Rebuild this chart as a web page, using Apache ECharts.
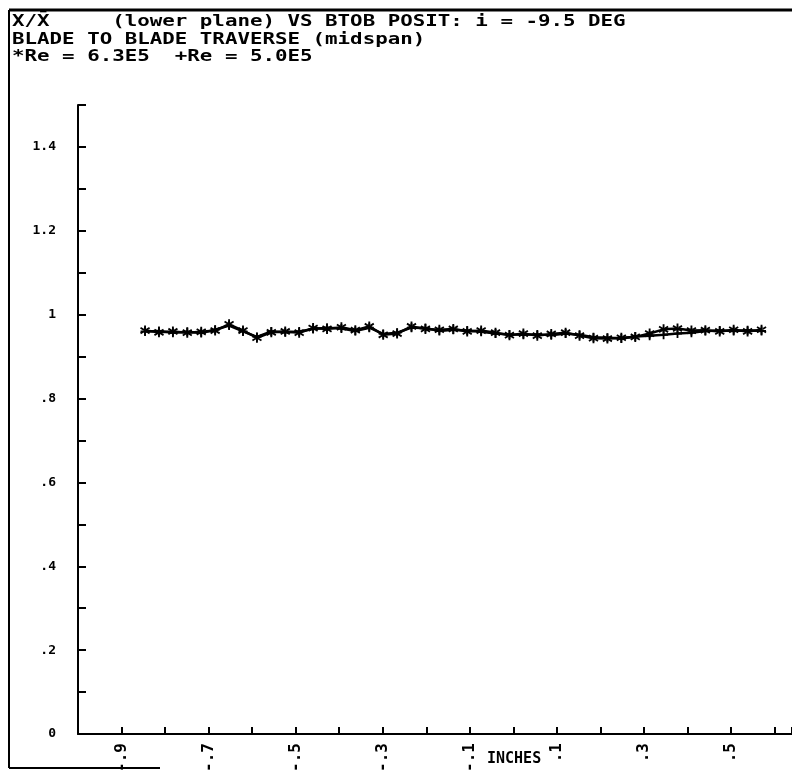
<!DOCTYPE html>
<html>
<head>
<meta charset="utf-8">
<script src="https://cdn.jsdelivr.net/npm/echarts@6/dist/echarts.min.js"></script>
<style>
    html, body { margin: 0; padding: 0; background: #fff; }
    #main { width: 792px; height: 771px; }
</style>
</head>
<body>
<div id="main"></div>
<script>
// traverse positions (inches)
var xPos = [-0.846, -0.814, -0.782, -0.749, -0.717, -0.685, -0.653, -0.621, -0.589, -0.556,
    -0.524, -0.492, -0.460, -0.428, -0.395, -0.363, -0.331, -0.299, -0.267, -0.234,
    -0.202, -0.170, -0.138, -0.106, -0.074, -0.041, -0.009, 0.023, 0.055, 0.087,
    0.120, 0.152, 0.184, 0.216, 0.248, 0.280, 0.313, 0.345, 0.377, 0.409,
    0.441, 0.474, 0.506, 0.538, 0.570];
// *Re = 6.3E5
var reHigh = [0.962, 0.958, 0.960, 0.957, 0.959, 0.962, 0.977, 0.962, 0.945, 0.958,
    0.960, 0.957, 0.968, 0.966, 0.970, 0.963, 0.972, 0.952, 0.955, 0.972,
    0.966, 0.964, 0.966, 0.960, 0.962, 0.957, 0.951, 0.955, 0.950, 0.954,
    0.957, 0.950, 0.944, 0.943, 0.945, 0.947, 0.955, 0.965, 0.967, 0.962,
    0.963, 0.960, 0.964, 0.960, 0.964];
// +Re = 5.0E5
var reLow = [0.960, 0.961, 0.957, 0.959, 0.956, 0.964, 0.974, 0.960, 0.947, 0.960,
    0.958, 0.960, 0.966, 0.969, 0.967, 0.961, 0.969, 0.954, 0.957, 0.969,
    0.968, 0.961, 0.964, 0.962, 0.959, 0.955, 0.953, 0.952, 0.953, 0.951,
    0.955, 0.952, 0.946, 0.945, 0.943, 0.948, 0.950, 0.952, 0.955, 0.957,
    0.961, 0.962, 0.961, 0.963, 0.961];
var titleLines = [
    'X/X\u0304     (lower plane) VS BTOB POSIT: i = -9.5 DEG',
    'BLADE TO BLADE TRAVERSE (midspan)',
    '*Re = 6.3E5  +Re = 5.0E5'
];
var xLabelTenths = [-9, -7, -5, -3, -1, 1, 3, 5];
var yLabelTenths = [0, 2, 4, 6, 8, 10, 12, 14];

var FONT = '"DejaVu Sans Mono", monospace';
var starPath = 'path://M-0.9,-5L0.9,-5L0.9,5L-0.9,5Z M-4.8,-2L-3.9,-3.6L4.8,2L3.9,3.6Z M-4.8,2L-3.9,3.6L4.8,-2L3.9,-3.6Z';
var plusPath = 'path://M-1,-5L1,-5L1,5L-1,5Z M-5,-1L5,-1L5,1L-5,1Z';

function tenthLabel(k) {
    if (k === 0) return '0';
    var s = (Math.abs(k) / 10).toString().replace(/^0\./, '.');
    return (k < 0 ? '-' : '') + s;
}

function pairs(xs, ys) {
    var out = [];
    for (var i = 0; i < xs.length; i++) out.push([xs[i], ys[i]]);
    return out;
}

var graphics = [
    // frame
    { type: 'line', shape: { x1: 9, y1: 10, x2: 792, y2: 10 }, style: { stroke: '#000', lineWidth: 3 } },
    { type: 'line', shape: { x1: 9, y1: 10, x2: 9, y2: 768 }, style: { stroke: '#000', lineWidth: 2 } },
    { type: 'line', shape: { x1: 9, y1: 768, x2: 160, y2: 768 }, style: { stroke: '#000', lineWidth: 2 } },
    {
        type: 'text', x: 487, y: 752,
        style: { text: 'INCHES', font: 'bold 15px ' + FONT, fill: '#000', textVerticalAlign: 'top' }
    }
];
for (var t = 0; t < titleLines.length; t++) {
    graphics.push({
        type: 'text', x: 12, y: 14 + t * 17.5, scaleX: 1.3,
        style: { text: titleLines[t], font: 'bold 16px ' + FONT, fill: '#000', textVerticalAlign: 'top' }
    });
}

var myChart = echarts.init(document.getElementById('main'));
var option = {
    backgroundColor: '#fff',
    animation: false,
    grid: { left: 78, right: 0, top: 105, bottom: 37, containLabel: false, outerBoundsMode: 'none' },
    xAxis: {
        type: 'value',
        min: -1.0,
        max: 0.64,
        interval: 0.1,
        splitLine: { show: false },
        axisLine: { onZero: false, lineStyle: { color: '#000', width: 2 } },
        axisTick: { inside: true, length: 7, lineStyle: { color: '#000', width: 2 } },
        axisLabel: {
            interval: 0,
            rotate: 90,
            margin: 9,
            color: '#000',
            fontFamily: FONT,
            fontWeight: 'bold',
            fontSize: 16,
            showMinLabel: true,
            showMaxLabel: true,
            formatter: function(v) {
                var k = Math.round(v * 10);
                if (Math.abs(v * 10 - k) > 0.01 || xLabelTenths.indexOf(k) < 0) return '';
                return tenthLabel(k);
            }
        }
    },
    yAxis: {
        type: 'value',
        min: 0,
        max: 1.5,
        interval: 0.1,
        splitLine: { show: false },
        axisLine: { onZero: false, lineStyle: { color: '#000', width: 2 } },
        axisTick: { inside: true, length: 8, lineStyle: { color: '#000', width: 2 } },
        axisLabel: {
            interval: 0,
            margin: 22,
            color: '#000',
            fontFamily: FONT,
            fontWeight: 'bold',
            fontSize: 13,
            formatter: function(v) {
                var k = Math.round(v * 10);
                if (yLabelTenths.indexOf(k) < 0) return '';
                return tenthLabel(k);
            }
        }
    },
    series: [{
        name: '*Re = 6.3E5',
        type: 'line',
        data: pairs(xPos, reHigh),
        symbol: starPath,
        symbolSize: 10,
        showAllSymbol: true,
        lineStyle: { color: '#000', width: 2.5 },
        itemStyle: { color: '#000' }
    }, {
        name: '+Re = 5.0E5',
        type: 'line',
        data: pairs(xPos, reLow),
        symbol: plusPath,
        symbolSize: 9,
        showAllSymbol: true,
        lineStyle: { color: '#000', width: 2.5 },
        itemStyle: { color: '#000' }
    }],
    graphic: graphics
};
myChart.setOption(option);
</script>
</body>
</html>
